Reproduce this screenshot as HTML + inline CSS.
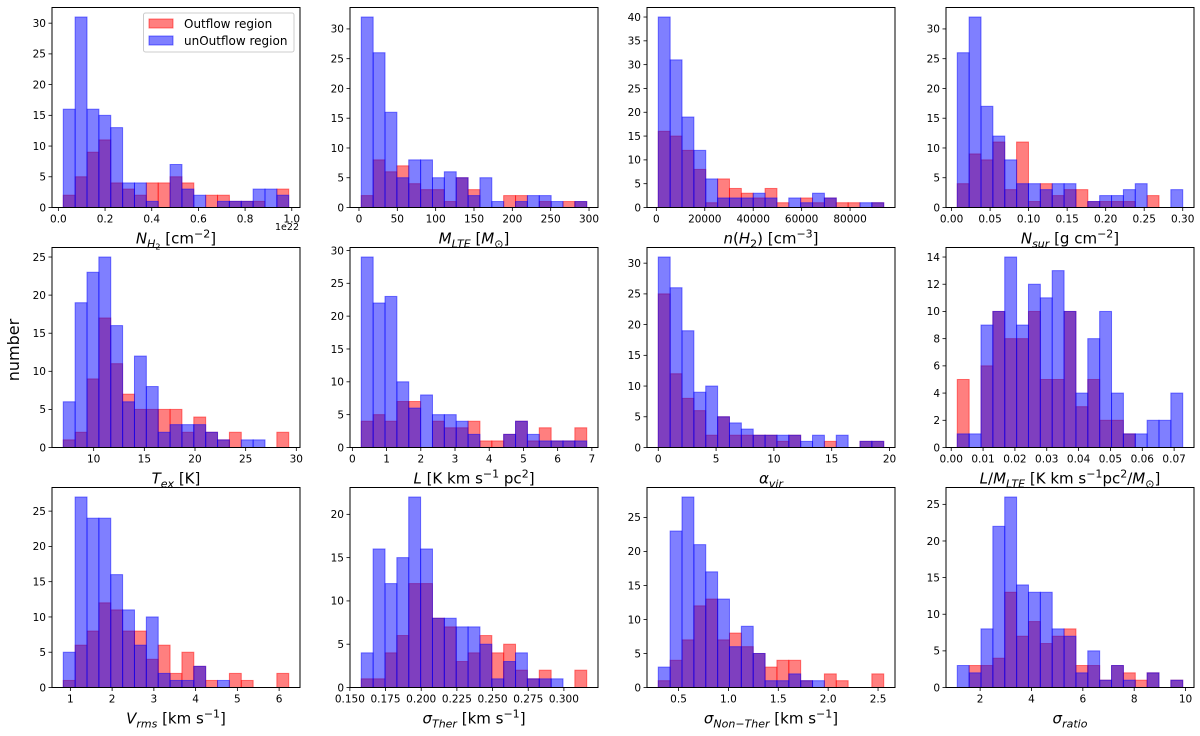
<!DOCTYPE html>
<html><head><meta charset="utf-8">
<style>
html,body{margin:0;padding:0;background:#fff;}
svg{display:block;font-family:"DejaVu Sans","Liberation Sans",sans-serif;}
</style></head>
<body>
<svg id="fig" width="1200" height="736" viewBox="0 0 1200 736"></svg>
<script>
// ---- data (counts per bin, 19 bins each) ----
const nh2Blue=[16,31,16,15,13,4,4,1,0,7,3,2,0,1,1,1,3,3,2];
const nh2Red=[2,5,9,11,4,3,2,4,4,5,4,0,2,2,1,1,1,0,3];
const mlteBlue=[32,26,16,5,8,8,5,6,5,2,5,1,0,1,2,2,1,0,1];
const mlteRed=[2,8,6,7,4,3,3,1,5,3,0,0,2,2,0,1,0,1,1];
const nBlue=[40,31,19,12,6,2,2,2,3,2,0,2,1,3,2,0,0,1,1];
const nRed=[16,15,12,8,1,6,4,3,2,4,1,0,2,1,2,1,1,0,1];
const nsurBlue=[26,32,17,12,8,4,4,3,4,4,0,1,2,2,3,4,0,0,3];
const nsurRed=[4,9,8,11,3,11,1,4,2,3,3,1,1,1,1,0,2,0,0];
const texBlue=[6,19,23,25,16,6,12,8,2,3,3,3,2,1,0,1,1,0,0];
const texRed=[1,2,9,17,11,7,5,5,5,5,2,4,2,1,2,0,0,0,2];
const lBlue=[29,22,23,10,6,8,5,5,4,2,0,0,2,4,2,1,1,1,1];
const lRed=[4,5,4,7,7,0,4,3,3,4,1,1,2,4,1,3,1,1,3];
const avirBlue=[31,26,19,9,10,5,4,3,2,2,2,2,1,2,0,2,0,1,1];
const avirRed=[25,12,8,6,2,5,2,2,2,2,1,2,0,0,1,0,0,1,1];
const lmBlue=[1,1,9,10,14,9,12,11,13,10,4,8,10,4,1,1,2,2,4];
const lmRed=[5,0,6,10,8,8,10,5,5,10,3,5,2,2,1,0,0,0,0];
const vrmsBlue=[5,27,24,24,16,11,6,10,2,1,1,3,0,1,0,0,0,0,0];
const vrmsRed=[1,6,8,12,11,8,8,4,6,2,5,3,1,0,2,1,0,0,2];
const sthBlue=[4,16,12,15,22,16,8,8,7,7,5,1,3,4,1,1,1,0,0];
const sthRed=[1,1,4,6,12,12,8,7,3,4,6,4,5,2,1,2,0,0,2];
const snthBlue=[3,23,28,21,17,13,6,9,5,1,1,2,1,1,0,0,0,0,0];
const snthRed=[1,4,7,12,13,7,8,6,5,3,4,4,1,0,2,1,0,0,2];
const sratBlue=[3,2,8,22,26,14,13,13,8,7,2,5,1,3,1,0,2,0,1];
const sratRed=[0,3,3,4,13,7,9,6,7,8,3,3,1,3,2,1,2,0,1];

const binRanges=[[0.021,0.987],[3,297],[800,93900],[0.0074,0.300],[7.0,29.25],[0.26,6.85],[0,19.5],[0.0019,0.0727],[0.83,6.23],[0.158,0.316],[0.297,2.557],[1.11,9.89]];
const xTickVals=[[0,0.2,0.4,0.6,0.8,1.0],[0,50,100,150,200,250,300],[0,20000,40000,60000,80000],[0,0.05,0.1,0.15,0.2,0.25,0.3],[10,15,20,25,30],[0,1,2,3,4,5,6,7],[0,5,10,15,20],[0,0.01,0.02,0.03,0.04,0.05,0.06,0.07],[1,2,3,4,5,6],[0.15,0.175,0.2,0.225,0.25,0.275,0.3],[0.5,1.0,1.5,2.0,2.5],[2,4,6,8,10]];
const xTickLabels=[["0.0","0.2","0.4","0.6","0.8","1.0"],["0","50","100","150","200","250","300"],["0","20000","40000","60000","80000"],["0.00","0.05","0.10","0.15","0.20","0.25","0.30"],["10","15","20","25","30"],["0","1","2","3","4","5","6","7"],["0","5","10","15","20"],["0.00","0.01","0.02","0.03","0.04","0.05","0.06","0.07"],["1","2","3","4","5","6"],["0.150","0.175","0.200","0.225","0.250","0.275","0.300"],["0.5","1.0","1.5","2.0","2.5"],["2","4","6","8","10"]];
const yTickVals=[[0,5,10,15,20,25,30],[0,5,10,15,20,25,30],[0,5,10,15,20,25,30,35,40],[0,5,10,15,20,25,30],[0,5,10,15,20,25],[0,5,10,15,20,25,30],[0,5,10,15,20,25,30],[0,2,4,6,8,10,12,14],[0,5,10,15,20,25],[0,5,10,15,20],[0,5,10,15,20,25],[0,5,10,15,20,25]];
const blueSeries=[nh2Blue,mlteBlue,nBlue,nsurBlue,texBlue,lBlue,avirBlue,lmBlue,vrmsBlue,sthBlue,snthBlue,sratBlue];
const redSeries=[nh2Red,mlteRed,nRed,nsurRed,texRed,lRed,avirRed,lmRed,vrmsRed,sthRed,snthRed,sratRed];

const xLabels=[
 '<tspan font-style="italic">N</tspan><tspan font-style="italic" font-size="11" dy="4">H</tspan><tspan font-size="8" dy="2">2</tspan><tspan dy="-6"> [cm</tspan><tspan font-size="11" dy="-6">−2</tspan><tspan dy="6">]</tspan>',
 '<tspan font-style="italic">M</tspan><tspan font-style="italic" font-size="11" dy="4">LTE</tspan><tspan dy="-4"> [</tspan><tspan font-style="italic">M</tspan><tspan font-size="11" dy="4">⊙</tspan><tspan dy="-4">]</tspan>',
 '<tspan font-style="italic">n</tspan>(<tspan font-style="italic">H</tspan><tspan font-size="11" dy="4">2</tspan><tspan dy="-4">) [cm</tspan><tspan font-size="11" dy="-6">−3</tspan><tspan dy="6">]</tspan>',
 '<tspan font-style="italic">N</tspan><tspan font-style="italic" font-size="11" dy="4">sur</tspan><tspan dy="-4"> [g cm</tspan><tspan font-size="11" dy="-6">−2</tspan><tspan dy="6">]</tspan>',
 '<tspan font-style="italic">T</tspan><tspan font-style="italic" font-size="11" dy="4">ex</tspan><tspan dy="-4"> [K]</tspan>',
 '<tspan font-style="italic">L</tspan> [K km s<tspan font-size="11" dy="-6">−1</tspan><tspan dy="6"> pc</tspan><tspan font-size="11" dy="-6">2</tspan><tspan dy="6">]</tspan>',
 '<tspan font-style="italic">α</tspan><tspan font-style="italic" font-size="11" dy="4">vir</tspan>',
 '<tspan font-style="italic">L</tspan>/<tspan font-style="italic">M</tspan><tspan font-style="italic" font-size="11" dy="4">LTE</tspan><tspan dy="-4"> [K km s</tspan><tspan font-size="11" dy="-6">−1</tspan><tspan dy="6">pc</tspan><tspan font-size="11" dy="-6">2</tspan><tspan dy="6">/</tspan><tspan font-style="italic">M</tspan><tspan font-size="11" dy="4">⊙</tspan><tspan dy="-4">]</tspan>',
 '<tspan font-style="italic">V</tspan><tspan font-style="italic" font-size="11" dy="4">rms</tspan><tspan dy="-4"> [km s</tspan><tspan font-size="11" dy="-6">−1</tspan><tspan dy="6">]</tspan>',
 '<tspan font-style="italic">σ</tspan><tspan font-style="italic" font-size="11" dy="4">Ther</tspan><tspan dy="-4"> [km s</tspan><tspan font-size="11" dy="-6">−1</tspan><tspan dy="6">]</tspan>',
 '<tspan font-style="italic">σ</tspan><tspan font-style="italic" font-size="11" dy="4">Non−Ther</tspan><tspan dy="-4"> [km s</tspan><tspan font-size="11" dy="-6">−1</tspan><tspan dy="6">]</tspan>',
 '<tspan font-style="italic">σ</tspan><tspan font-style="italic" font-size="11" dy="4">ratio</tspan>'
];
const panelNames=['nh2','m-lte','n-h2','n-sur','t-ex','luminosity','alpha-vir','l-over-m','v-rms','sigma-ther','sigma-non-ther','sigma-ratio'];

const NS='http://www.w3.org/2000/svg';
const svg=document.getElementById('fig');
function mk(tag,attrs,parent){const e=document.createElementNS(NS,tag);for(const k in attrs)e.setAttribute(k,attrs[k]);(parent||svg).appendChild(e);return e;}

const colX=[52,350,647,946], rowY=[7.5,247.5,487.5], W=248, H=200;

for(let p=0;p<12;p++){
  const col=p%4,row=Math.floor(p/4);
  const X0=colX[col],Y0=rowY[row];
  const g=mk('g',{});
  
  
  const [lo,hi]=binRanges[p];
  const blue=blueSeries[p],red=redSeries[p];
  const n=blue.length;
  const span=hi-lo, xmin=lo-0.05*span, xmax=hi+0.05*span;
  const ymax=Math.max(Math.max(...blue),Math.max(...red))*1.05;
  const sx=v=>X0+(v-xmin)/(xmax-xmin)*W;
  const sy=v=>Y0+H-(v/ymax)*H;
  const bw=span/n;
  const drawSeries=(arr,fill,stroke,nm)=>{
    for(let i=0;i<n;i++){
      if(arr[i]<=0)continue;
      const x1=sx(lo+i*bw),x2=sx(lo+(i+1)*bw);
      const r=mk('rect',{x:x1,y:sy(arr[i]),width:x2-x1,height:sy(0)-sy(arr[i]),fill:fill,'fill-opacity':0.5,stroke:stroke,'stroke-opacity':0.5,'stroke-width':1},g);
      
      
    }
  };
  drawSeries(red,'#ff0000','#ff0000','outflow');
  drawSeries(blue,'#0000ff','#0000ff','unoutflow');
  const frame=mk('rect',{x:X0,y:Y0,width:W,height:H,fill:'none',stroke:'#000','stroke-width':1},g);
  
  
  xTickVals[p].forEach((v,i)=>{
    const x=sx(v);
    mk('line',{x1:x,y1:Y0+H,x2:x,y2:Y0+H+3.5,stroke:'#000','stroke-width':0.8},g);
    const t=mk('text',{x:x,y:Y0+H+15,'font-size':10.5,'text-anchor':'middle',fill:'#000'},g);
    t.textContent=xTickLabels[p][i];
    
    
  });
  yTickVals[p].forEach(v=>{
    const y=sy(v);
    mk('line',{x1:X0-3.5,y1:y,x2:X0,y2:y,stroke:'#000','stroke-width':0.8},g);
    const t=mk('text',{x:X0-6,y:y+3.8,'font-size':10.5,'text-anchor':'end',fill:'#000'},g);
    t.textContent=String(v);
    
    
  });
  const xl=mk('text',{x:X0+W/2,y:Y0+H+36,'font-size':15,'text-anchor':'middle',fill:'#000'},g);
  xl.innerHTML=xLabels[p];
  
  
}
</script>
<script>
(function(){
  const s=document.getElementById('fig');
  const add=(html)=>{s.insertAdjacentHTML('beforeend',html);};
  add('<text x="299" y="230" font-size="9.5" text-anchor="end">1e22</text>');
  add('<text x="0" y="0" font-size="16" text-anchor="middle" transform="translate(19,350) rotate(-90)">number</text>');
  add('<g>'+
    '<rect x="143.5" y="13" width="150.5" height="39" rx="2" fill="#fff" fill-opacity="0.8" stroke="#ccc" stroke-width="1"/>'+
    '<g><rect x="149" y="19" width="24" height="9" fill="#ff0000" fill-opacity="0.5" stroke="#ff0000" stroke-opacity="0.5"/>'+
    '<text x="184" y="28" font-size="12">Outflow region</text></g>'+
    '<g><rect x="149" y="36" width="24" height="9" fill="#0000ff" fill-opacity="0.5" stroke="#0000ff" stroke-opacity="0.5"/>'+
    '<text x="184" y="45" font-size="12">unOutflow region</text></g></g>');
})();
</script>
</body></html>
